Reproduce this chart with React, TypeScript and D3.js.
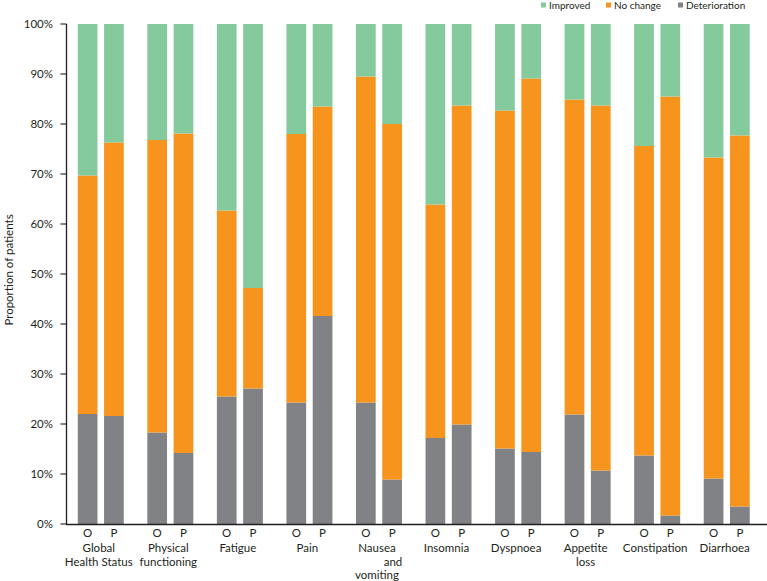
import React from 'react';
import * as d3 from 'd3';

const categories = [
  'Global Health Status', 'Physical functioning', 'Fatigue', 'Pain', 'Nausea and vomiting',
  'Insomnia', 'Dyspnoea', 'Appetite loss', 'Constipation', 'Diarrhoea'
];
const categoryLines = [
  ['Global', 'Health Status'], ['Physical', 'functioning'], ['Fatigue'], ['Pain'],
  ['Nausea', 'and', 'vomiting'], ['Insomnia'], ['Dyspnoea'], ['Appetite', 'loss'],
  ['Constipation'], ['Diarrhoea']
];
const arms = ['O', 'P'];
const seriesKeys = ['Deterioration', 'No change', 'Improved'];

// percentages per category
const deteriorationO = [22.0, 18.3, 25.5, 24.3, 24.3, 17.2, 15.1, 21.9, 13.7, 9.1];
const deteriorationP = [21.6, 14.2, 27.1, 41.6, 8.9, 19.9, 14.4, 10.7, 1.7, 3.5];
const noChangeO = [47.7, 58.5, 37.2, 53.7, 65.2, 46.7, 67.6, 63.0, 61.9, 64.2];
const noChangeP = [54.7, 63.9, 20.1, 41.9, 71.1, 63.8, 74.7, 73.0, 83.8, 74.2];
const improvedO = [30.3, 23.2, 37.3, 22.0, 10.5, 36.1, 17.3, 15.1, 24.4, 26.7];
const improvedP = [23.7, 21.9, 52.8, 16.5, 20.0, 16.3, 10.9, 16.3, 14.5, 22.3];

const yTicks = [0, 10, 20, 30, 40, 50, 60, 70, 80, 90, 100];

const colors: Record<string, string> = {
  'Improved': '#85ca9d',
  'No change': '#f7941d',
  'Deterioration': '#808285'
};

const W = 767;
const H = 581;
const ink = '#231f20';
const font = 'Lato, "Open Sans", sans-serif';

const App: React.FC = () => {
  const x = d3.scaleBand<string>().domain(categories).range([66, 761.5]).padding(0);
  const y = d3.scaleLinear().domain([0, 100]).range([524, 24]);

  const rows = categories.flatMap((c, i) => [
    { cat: c, arm: 'O', 'Deterioration': deteriorationO[i], 'No change': noChangeO[i], 'Improved': improvedO[i] },
    { cat: c, arm: 'P', 'Deterioration': deteriorationP[i], 'No change': noChangeP[i], 'Improved': improvedP[i] }
  ]);
  const stacked = d3.stack<any>().keys(seriesKeys)(rows);

  const inner = (cat: string) => {
    const c = (x(cat) || 0) + x.bandwidth() / 2;
    return d3.scaleBand<string>().domain(arms).range([c - 23, c + 23]).paddingInner(0.25).paddingOuter(0);
  };

  const legend = [
    { key: 'Improved', x: 541 },
    { key: 'No change', x: 606 },
    { key: 'Deterioration', x: 678 }
  ];

  return (
    <svg width={W} height={H} style={{ position: 'absolute', left: 0, top: 0, background: '#fff' }} fontFamily={font}>
      {stacked.map(s => (
        <g key={s.key} fill={colors[s.key]}>
          {s.map((d, j) => {
            const r = rows[j];
            const xi = inner(r.cat);
            return (
              <rect key={j} x={xi(r.arm)} width={xi.bandwidth()}
                y={y(d[1])} height={y(d[0]) - y(d[1])} />
            );
          })}
        </g>
      ))}

      {/* y axis */}
      <line x1={66.5} x2={66.5} y1={y(100)} y2={y(0)} stroke={ink} strokeWidth={1.3} />
      {yTicks.map(t => (
        <g key={t}>
          <line x1={60.5} x2={66.5} y1={y(t)} y2={y(t)} stroke={ink} strokeWidth={1.1} />
          <text x={53} y={y(t)} dy="0.35em" textAnchor="end" fontSize={11.5} fill={ink}>{t}%</text>
        </g>
      ))}
      <text transform={`translate(13, ${y(50) - 4}) rotate(-90)`} textAnchor="middle" fontSize={11.5} fill={ink}>
        Proportion of patients
      </text>

      {/* x axis */}
      <line x1={66} x2={767} y1={y(0) + 0.5} y2={y(0) + 0.5} stroke={ink} strokeWidth={1.3} />
      {categories.map((c, i) => {
        const xi = inner(c);
        const cx = (x(c) || 0) + x.bandwidth() / 2;
        return (
          <g key={c} fontSize={11.5} fill={ink} textAnchor="middle">
            {arms.map(a => (
              <text key={a} x={(xi(a) || 0) + xi.bandwidth() / 2} y={537}>{a}</text>
            ))}
            {categoryLines[i].map((ln, k) => (
              <text key={k} x={cx + (ln === 'and' ? 16 : 0) - 2} y={552 + k * 13.5}>{ln}</text>
            ))}
          </g>
        );
      })}

      {/* legend */}
      {legend.map(l => (
        <g key={l.key}>
          <rect x={l.x} y={2.5} width={5} height={5} fill={colors[l.key]} />
          <text x={l.x + 8} y={8.5} fontSize={10} fill={ink}>{l.key}</text>
        </g>
      ))}
    </svg>
  );
};

export default App;
